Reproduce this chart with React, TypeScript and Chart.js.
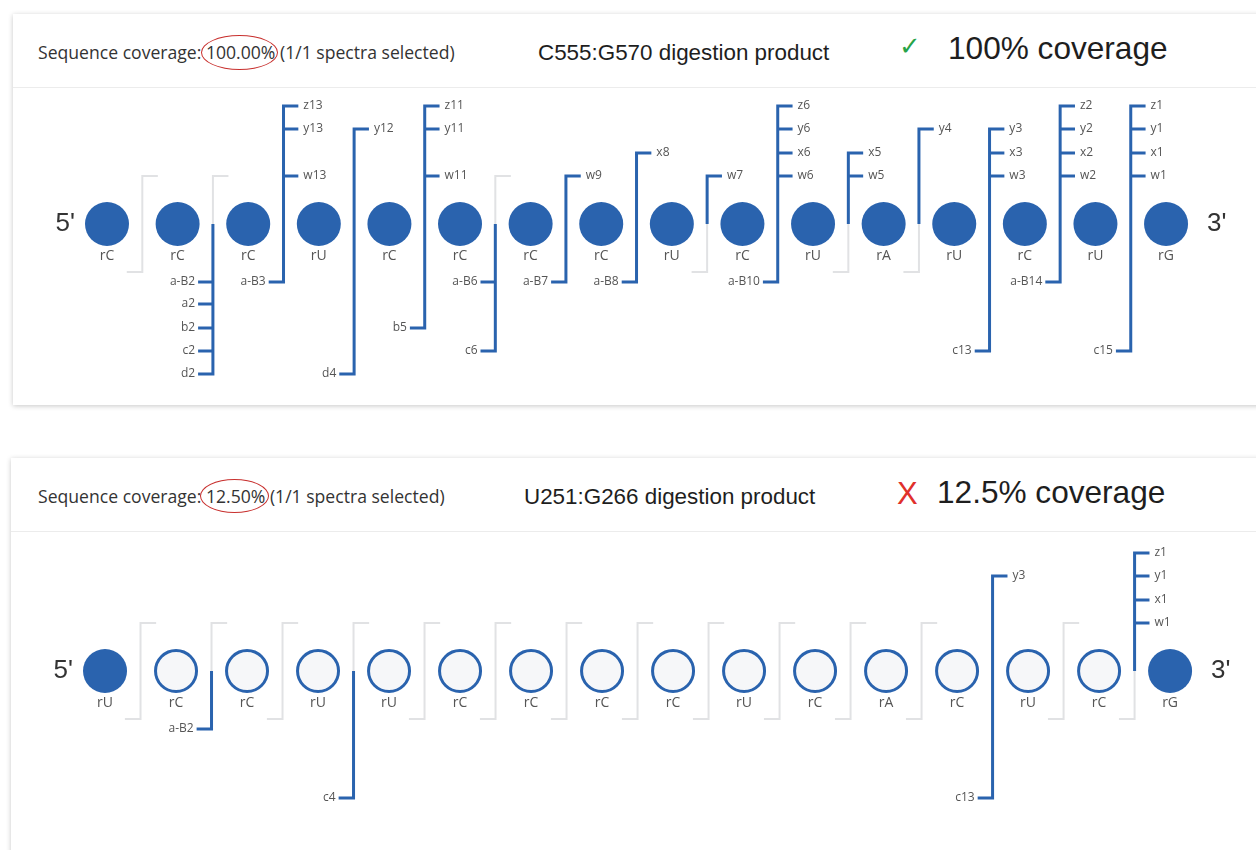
import React, { useEffect, useRef } from 'react';
import { Chart, registerables } from 'chart.js';

Chart.register(...registerables);

// ---------------- DATA ----------------
const TOP_SEQUENCE = ['rC', 'rC', 'rC', 'rU', 'rC', 'rC', 'rC', 'rC', 'rU', 'rC', 'rU', 'rA', 'rU', 'rC', 'rU', 'rG'];
const TOP_COVERED = [1, 1, 1, 1, 1, 1, 1, 1, 1, 1, 1, 1, 1, 1, 1, 1];
const TOP_IONS_3P = ['z13', 'y13', 'w13', 'y12', 'z11', 'y11', 'w11', 'w9', 'x8', 'w7', 'z6', 'y6', 'x6', 'w6', 'x5', 'w5', 'y4', 'y3', 'x3', 'w3', 'z2', 'y2', 'x2', 'w2', 'z1', 'y1', 'x1', 'w1'];
const TOP_IONS_5P = ['a-B2', 'a2', 'b2', 'c2', 'd2', 'a-B3', 'd4', 'b5', 'a-B6', 'c6', 'a-B7', 'a-B8', 'a-B10', 'c13', 'a-B14', 'c15'];

const BOTTOM_SEQUENCE = ['rU', 'rC', 'rC', 'rU', 'rU', 'rC', 'rC', 'rC', 'rC', 'rU', 'rC', 'rA', 'rC', 'rU', 'rC', 'rG'];
const BOTTOM_COVERED = [1, 0, 0, 0, 0, 0, 0, 0, 0, 0, 0, 0, 0, 0, 0, 1];
const BOTTOM_IONS_3P = ['y3', 'z1', 'y1', 'x1', 'w1'];
const BOTTOM_IONS_5P = ['a-B2', 'c4', 'c13'];

// level of each ion type relative to the strand (0)
const ION_LEVELS: Record<string, number> = { w: 48, x: 71, y: 95, z: 118, 'a-B': -58, a: -80, b: -104, c: -127, d: -150 };
const BRACKET_TOP = 48;
const BRACKET_BOTTOM = -48;

// ---------------- STYLE ----------------
const BLUE = '#2a63ae';
const GRAY = '#e1e2e4';
const HOLLOW_FILL = '#f6f7f9';
const ARM = 0.22;
const TICK = 0.21;

type Ion = { name: string; type: string; site: number; level: number };

function ionInfo(name: string, threePrime: boolean, n: number): Ion {
  const m = name.match(/^(a-B|[a-z])(\d+)$/)!;
  const type = m[1];
  const num = Number(m[2]);
  return { name, type, site: threePrime ? n - num : num, level: ION_LEVELS[type] };
}

function seg(points: { x: number; y: number }[], color: string, width: number) {
  return {
    data: points,
    showLine: true,
    borderColor: color,
    borderWidth: width,
    pointRadius: 0,
    fill: false,
    tension: 0,
    borderCapStyle: 'butt',
    borderJoinStyle: 'miter',
  };
}

function buildDatasets(seq: string[], covered: number[], up: Ion[], down: Ion[]) {
  const n = seq.length;
  const ds: any[] = [];
  for (let s = 1; s < n; s++) {
    const sx = s + 0.5;
    const u = up.filter((i) => i.site === s);
    const d = down.filter((i) => i.site === s);
    if (!u.length) ds.push(seg([{ x: sx + ARM, y: BRACKET_TOP }, { x: sx, y: BRACKET_TOP }, { x: sx, y: 0 }], GRAY, 2));
    if (!d.length) ds.push(seg([{ x: sx, y: 0 }, { x: sx, y: BRACKET_BOTTOM }, { x: sx - ARM, y: BRACKET_BOTTOM }], GRAY, 2));
  }
  for (let s = 1; s < n; s++) {
    const sx = s + 0.5;
    const u = up.filter((i) => i.site === s);
    const d = down.filter((i) => i.site === s);
    if (!u.length && !d.length) continue;
    const top = u.length ? Math.max(...u.map((i) => i.level)) : 0;
    const bot = d.length ? Math.min(...d.map((i) => i.level)) : 0;
    const pts: { x: number; y: number }[] = [];
    if (u.length) pts.push({ x: sx + TICK, y: top });
    pts.push({ x: sx, y: top });
    pts.push({ x: sx, y: bot });
    if (d.length) pts.push({ x: sx - TICK, y: bot });
    ds.push(seg(pts, BLUE, 3));
    u.filter((i) => i.level !== top).forEach((i) => ds.push(seg([{ x: sx, y: i.level }, { x: sx + TICK, y: i.level }], BLUE, 3)));
    d.filter((i) => i.level !== bot).forEach((i) => ds.push(seg([{ x: sx, y: i.level }, { x: sx - TICK, y: i.level }], BLUE, 3)));
  }
  ds.push({
    data: seq.map((_, i) => ({ x: i + 1, y: 0 })),
    showLine: false,
    pointRadius: covered.map((c) => (c ? 22 : 20.5)),
    pointBackgroundColor: covered.map((c) => (c ? BLUE : HOLLOW_FILL)),
    pointBorderColor: BLUE,
    pointBorderWidth: covered.map((c) => (c ? 0 : 3)),
  });
  return ds;
}

type PanelProps = {
  seq: string[];
  covered: number[];
  ions3: string[];
  ions5: string[];
  top: number;
  height: number;
  xMin: number;
  xMax: number;
  yMax: number;
};

function SequenceChart({ seq, covered, ions3, ions5, top, height, xMin, xMax, yMax }: PanelProps) {
  const ref = useRef<HTMLCanvasElement>(null);
  useEffect(() => {
    const n = seq.length;
    const up = ions3.map((i) => ionInfo(i, true, n));
    const down = ions5.map((i) => ionInfo(i, false, n));
    const labels = {
      id: 'seqLabels',
      afterDatasetsDraw(chart: any) {
        const { ctx, scales } = chart;
        const xs = scales.x;
        const ys = scales.y;
        ctx.save();
        ctx.textBaseline = 'middle';
        // nucleotide names
        ctx.fillStyle = '#555';
        ctx.font = '14px "Open Sans"';
        ctx.textAlign = 'center';
        seq.forEach((s, i) => ctx.fillText(s, xs.getPixelForValue(i + 1), ys.getPixelForValue(0) + 32));
        // ion labels
        ctx.font = '12px "Open Sans"';
        ctx.fillStyle = '#555';
        ctx.textAlign = 'left';
        up.forEach((i) => ctx.fillText(i.name, xs.getPixelForValue(i.site + 0.5 + TICK) + 5, ys.getPixelForValue(i.level)));
        ctx.textAlign = 'right';
        down.forEach((i) => ctx.fillText(i.name, xs.getPixelForValue(i.site + 0.5 - TICK) - 3, ys.getPixelForValue(i.level)));
        // ends
        ctx.font = '26px "Liberation Sans", Arial';
        ctx.fillStyle = '#333';
        ctx.textAlign = 'right';
        ctx.fillText("5'", xs.getPixelForValue(1) - 32, ys.getPixelForValue(0));
        ctx.textAlign = 'left';
        ctx.fillText("3'", xs.getPixelForValue(n) + 41, ys.getPixelForValue(0));
        ctx.restore();
      },
    };
    const chart = new Chart(ref.current!, {
      type: 'scatter',
      data: { datasets: buildDatasets(seq, covered, up, down) as any },
      options: {
        responsive: false,
        animation: false,
        events: [],
        layout: { padding: 0, autoPadding: false },
        plugins: { legend: { display: false }, tooltip: { enabled: false } },
        scales: {
          x: { type: 'linear', min: xMin, max: xMax, display: false },
          y: { type: 'linear', min: yMax - height, max: yMax, display: false },
        },
      },
      plugins: [labels],
    });
    return () => chart.destroy();
  }, []);
  return (
    <canvas
      ref={ref}
      width={1256}
      height={height}
      style={{ position: 'absolute', left: 0, top, width: 1256, height }}
    />
  );
}

function Header({ top, coverage, product, ok, summary, ellipse }: any) {
  const row = (left: number, cy: number, h: number) => ({
    position: 'absolute' as const,
    left,
    top: top + cy - h / 2,
    height: h,
    display: 'flex',
    alignItems: 'center',
    whiteSpace: 'nowrap' as const,
  });
  return (
    <>
      <div style={{ ...row(38, 38, 26), fontFamily: '"Open Sans"', fontSize: 17.6, color: '#333' }}>
        Sequence coverage: {coverage} (1/1 spectra selected)
      </div>
      <div
        style={{
          position: 'absolute',
          left: ellipse[0],
          top: top + ellipse[1],
          width: ellipse[2],
          height: ellipse[3],
          border: '1.5px solid #c8302e',
          borderRadius: '50%',
          boxSizing: 'border-box',
        }}
      />
      <div style={{ ...row(product[1], 39, 30), fontFamily: '"Liberation Sans", Arial', fontSize: 22.4, color: '#1e1e1e' }}>
        {product[0]}
      </div>
      {ok ? (
        <div style={{ ...row(899, 32, 30), fontFamily: '"DejaVu Sans"', fontSize: 26, color: '#27a348' }}>✓</div>
      ) : (
        <div style={{ ...row(897, 36, 36), fontFamily: '"Liberation Sans", Arial', fontSize: 31, color: '#e0302b' }}>X</div>
      )}
      <div style={{ ...row(summary[1], 34, 40), fontFamily: '"Liberation Sans", Arial', fontSize: 31.6, color: '#1e1e1e' }}>
        {summary[0]}
      </div>
    </>
  );
}

export default function App() {
  const card = (top: number, left: number, height: number) => ({
    position: 'absolute' as const,
    left,
    top,
    width: 1300,
    height,
    background: '#fff',
    boxShadow: '0 1px 5px rgba(0,0,0,0.22)',
  });
  return (
    <div style={{ position: 'absolute', left: 0, top: 0, width: 1256, height: 850, background: '#fff', overflow: 'hidden' }}>
      <div style={card(14, 13, 391)}>
        <div style={{ position: 'absolute', left: 0, right: 0, top: 73, height: 1, background: '#ececec' }} />
      </div>
      <div style={card(458, 11, 420)}>
        <div style={{ position: 'absolute', left: 0, right: 0, top: 73, height: 1, background: '#ececec' }} />
      </div>
      <Header
        top={14}
        coverage="100.00%"
        product={['C555:G570 digestion product', 538]}
        ok={true}
        summary={['100% coverage', 948]}
        ellipse={[201, 21, 77, 35]}
      />
      <Header
        top={458}
        coverage="12.50%"
        product={['U251:G266 digestion product', 524]}
        ok={false}
        summary={['12.5% coverage', 937]}
        ellipse={[200, 21, 69, 34]}
      />
      <SequenceChart
        seq={TOP_SEQUENCE}
        covered={TOP_COVERED}
        ions3={TOP_IONS_3P}
        ions5={TOP_IONS_5P}
        top={89}
        height={316}
        xMin={-0.5156}
        xMax={17.274}
        yMax={135}
      />
      <SequenceChart
        seq={BOTTOM_SEQUENCE}
        covered={BOTTOM_COVERED}
        ions3={BOTTOM_IONS_3P}
        ions5={BOTTOM_IONS_5P}
        top={533}
        height={317}
        xMin={-0.479}
        xMax={17.21}
        yMax={138}
      />
    </div>
  );
}
